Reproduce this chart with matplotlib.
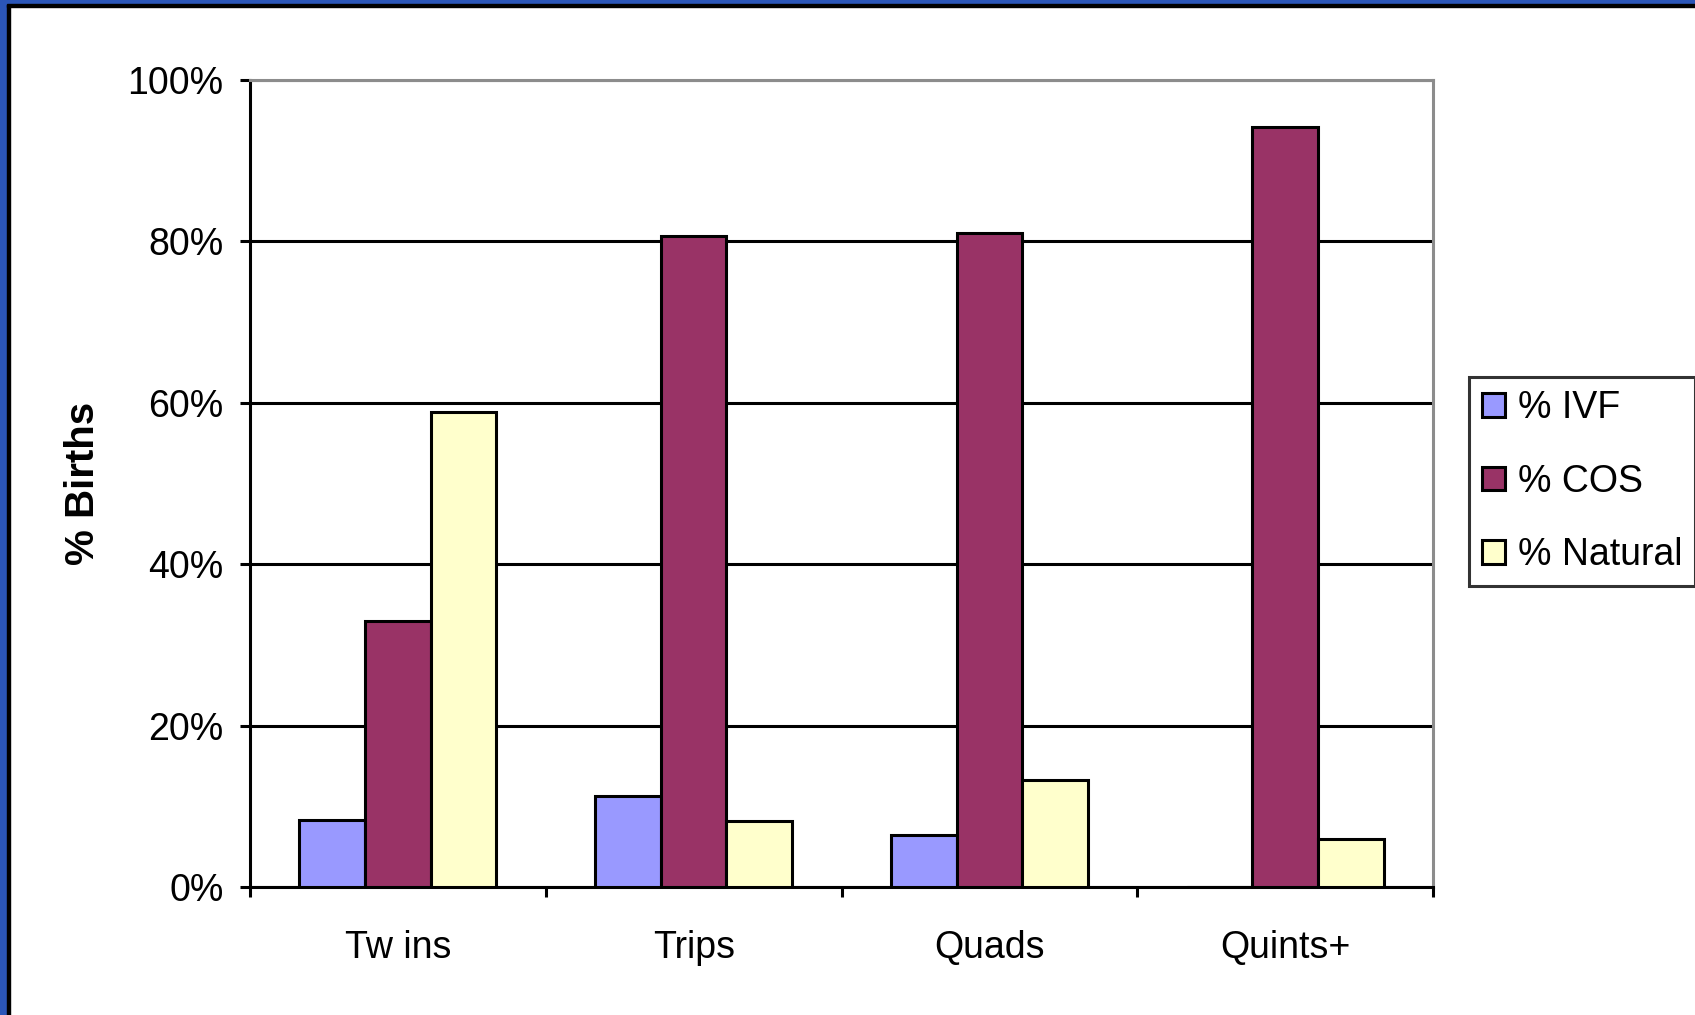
import numpy as np
import matplotlib.pyplot as plt
from matplotlib.patches import Rectangle
from matplotlib.ticker import FuncFormatter

plt.rcParams['font.family'] = ['Liberation Sans', 'DejaVu Sans']

categories = ["Tw ins", "Trips", "Quads", "Quints+"]
ivf = [8.3, 11.3, 6.4, 0.0]
cos = [33.0, 80.7, 81.1, 94.2]
natural = [58.9, 8.2, 13.2, 5.9]
series_names = ["% IVF", "% COS", "% Natural"]
colors = ["#9999FF", "#993366", "#FFFFCC"]

W, H = 1695, 1015
fig = plt.figure(figsize=(W/100, H/100), dpi=100)
fig.patch.set_facecolor("white")

# blue frame on left and top
fig.add_artist(Rectangle((0, 0), 7/W, 1, transform=fig.transFigure, color="#2B56B8", zorder=10))
fig.add_artist(Rectangle((7/W, 0), 3/W, 1 - 4/H, transform=fig.transFigure, color="black", zorder=10))
fig.add_artist(Rectangle((0, 1 - 4/H), 1, 4/H, transform=fig.transFigure, color="#2B56B8", zorder=10))
fig.add_artist(Rectangle((7/W, 1 - 7/H), 1, 3/H, transform=fig.transFigure, color="black", zorder=10))

ax = fig.add_axes([250/W, 1 - 887/H, (1433-250)/W, (887-80)/H])

x = np.arange(len(categories))
bw = 1/4.5
for k, (vals, name, c) in enumerate(zip([ivf, cos, natural], series_names, colors)):
    ax.bar(x + (k-1)*bw, vals, width=bw, color=c, edgecolor="black", linewidth=2.2,
           label=name, zorder=3)

ax.set_xlim(-0.5, 3.5)
ax.set_ylim(0, 100)
ax.set_yticks([0, 20, 40, 60, 80, 100])
ax.yaxis.set_major_formatter(FuncFormatter(lambda v, p: "%d%%" % v))
ax.grid(axis="y", color="black", linewidth=2.2, zorder=1)

ax.set_xticks(x)
ax.set_xticklabels(categories)
ax.set_xticks(np.arange(-0.5, 4, 1), minor=True)
ax.tick_params(axis="x", which="major", length=0, pad=31, labelsize=27)
ax.tick_params(axis="x", which="minor", length=7, width=2.2, direction="out")
ax.tick_params(axis="y", length=7, width=2.2, pad=12, labelsize=27)

for s in ["left", "bottom"]:
    ax.spines[s].set_color("black")
    ax.spines[s].set_linewidth(2.2)
for s in ["top", "right"]:
    ax.spines[s].set_color("#8C8C8C")
    ax.spines[s].set_linewidth(2.2)

ax.set_ylabel("% Births", fontsize=29, fontweight="bold", labelpad=18)

leg = fig.legend(loc="upper left", bbox_to_anchor=(1469/W, 1 - 377/H), fontsize=27,
                 frameon=True, fancybox=False, shadow=False, edgecolor="black",
                 handlelength=0.6, handleheight=0.6, handletextpad=0.35,
                 labelspacing=1.0, borderpad=0.35, borderaxespad=0)
leg.get_frame().set_linewidth(2.2)

plt.savefig("out.png", dpi=100)
